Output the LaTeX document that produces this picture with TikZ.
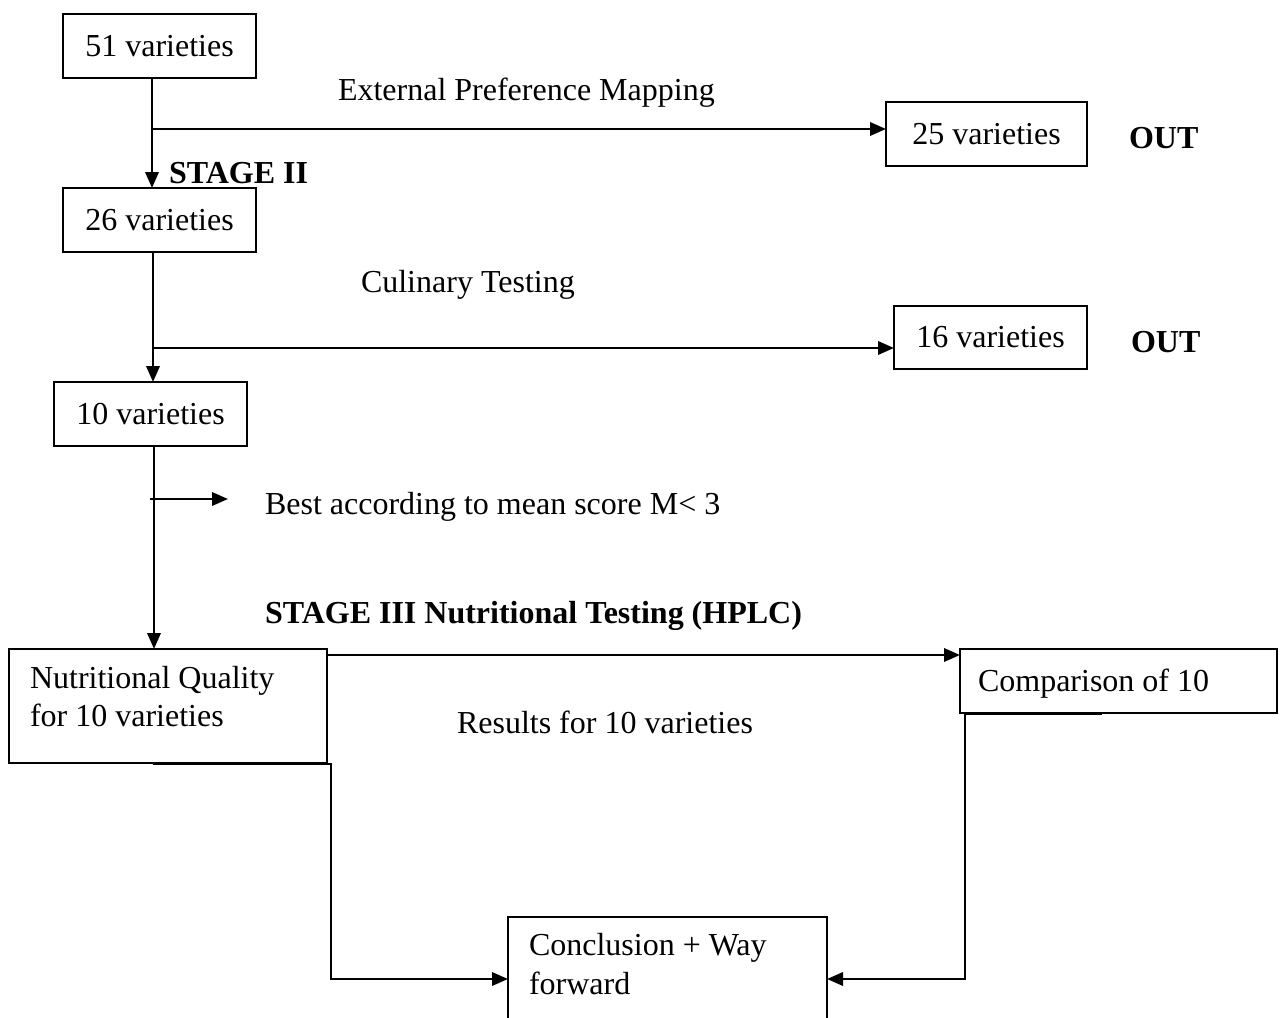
\documentclass[tikz,border=0pt]{standalone}
\usepackage{fontspec}
\setmainfont{Liberation Serif}
\usetikzlibrary{arrows.meta}
\newcommand\pxu{0.375pt}
\begin{document}
\begin{tikzpicture}[x=0.375pt, y=-0.375pt,
  font=\fontsize{12}{14.4}\selectfont,
  box/.style={draw, line width=0.85pt, inner sep=0pt, outer sep=0pt},
  txt/.style={inner sep=0pt, outer sep=0pt, anchor=base west},
  btxt/.style={txt, font=\fontsize{12}{14.4}\selectfont\bfseries},
  arr/.style={line width=0.95pt, -{Triangle[length=6pt,width=5pt]}},
  ln/.style={line width=0.95pt}]
\useasboundingbox (0,0) rectangle (1281,1017);
\clip (0,0) rectangle (1281,1017);

% boxes
\node[box, minimum width=193*\pxu, minimum height=64*\pxu] (b51) at (159.5,46) {51 varieties};
\node[box, minimum width=193*\pxu, minimum height=64*\pxu] (b26) at (159.5,220) {26 varieties};
\node[box, minimum width=193*\pxu, minimum height=64*\pxu] (b10) at (150.5,414) {10 varieties};
\node[box, minimum width=201*\pxu, minimum height=64*\pxu] (b25) at (986.5,134) {25 varieties};
\node[box, minimum width=193*\pxu, minimum height=63*\pxu] (b16) at (990.5,337.5) {16 varieties};
\node[box, minimum width=318*\pxu, minimum height=114*\pxu] (nut) at (168,706) {};
\node[box, minimum width=317*\pxu, minimum height=64*\pxu] (comp) at (1118.5,681) {};
\node[box, minimum width=319*\pxu, minimum height=124*\pxu] (conc) at (667.5,979) {};

% texts inside multi-line boxes
\node[txt] (nut1) at (30,688) {Nutritional Quality};
\node[txt] (nut2) at (30,726) {for 10 varieties};
\node[txt] (comptxt) at (978,691) {Comparison of 10};
\node[txt] (conc1) at (529,955) {Conclusion + Way};
\node[txt] (conc2) at (529,994) {forward};

% free labels
\node[txt] (ext) at (338,100) {External Preference Mapping};
\node[btxt] (st2) at (169,183) {STAGE II};
\node[txt] (cul) at (361,292) {Culinary Testing};
\node[btxt] (out1) at (1129,148) {OUT};
\node[btxt] (out2) at (1131,352) {OUT};
\node[txt] (best) at (265,514) {Best according to mean score M< 3};
\node[btxt] (st3) at (265,623) {STAGE III Nutritional Testing (HPLC)};
\node[txt] (res) at (457,733) {Results for 10 varieties};

% junction coordinates
\coordinate (j1) at (152,129);
\coordinate (j2) at (153,348);
\coordinate (j3) at (154,499);
\coordinate (j3e) at (228,499);
\coordinate (h3) at (327,655);
\coordinate (n1) at (153,764);
\coordinate (k1) at (331,979);
\coordinate (m1) at (1102,714);
\coordinate (k2) at (965,979);

% connectors
\draw[arr] (b51.south -| j1) -- (b26.north -| j1);
\draw[arr] (j1) -- (j1 -| b25.west);
\draw[arr] (b26.south -| j2) -- (b10.north -| j2);
\draw[arr] (j2) -- (j2 -| b16.west);
\draw[arr] (b10.south -| j3) -- (nut.north -| j3);
\draw[arr] ([xshift=-4*\pxu]j3) -- (j3e);
\draw[arr] (h3) -- (h3 -| comp.west);
\draw[arr] (n1) -| (k1) -- (k1 -| conc.west);
\draw[arr] (m1) -| (k2) -- (k2 -| conc.east);
\end{tikzpicture}
\end{document}
